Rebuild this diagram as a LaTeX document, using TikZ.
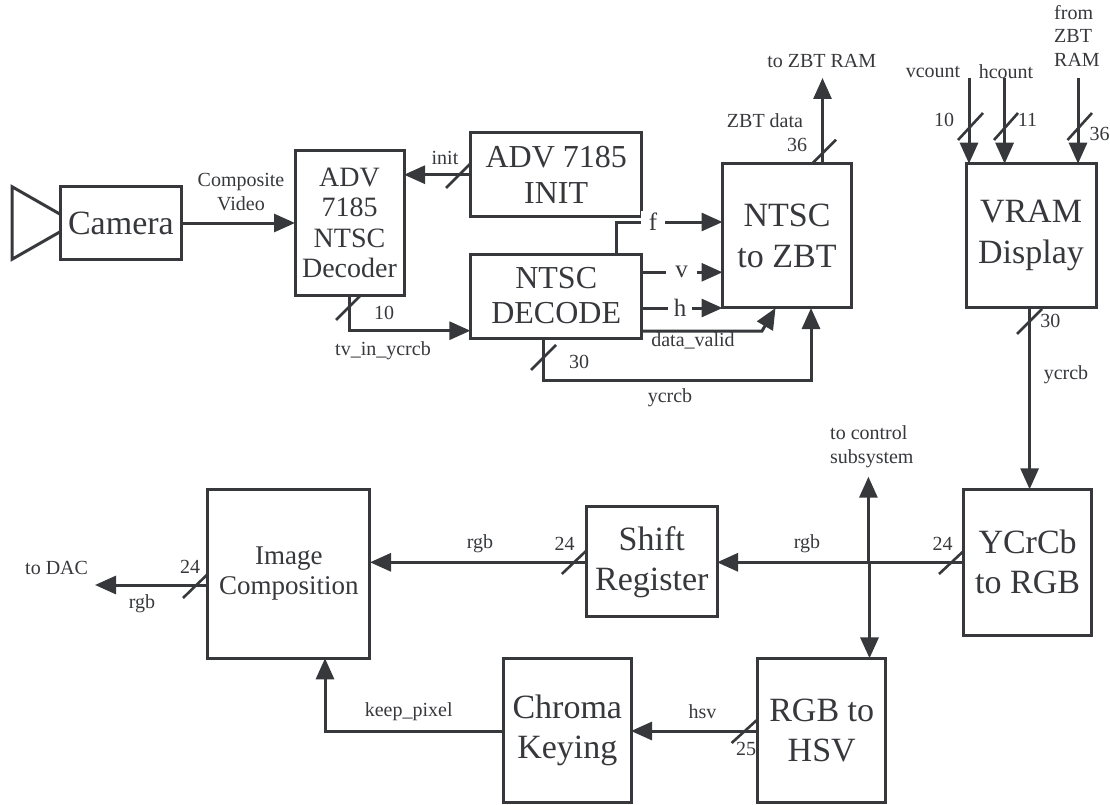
\documentclass[tikz,border=0pt]{standalone}
\usepackage{fontspec}
\setmainfont{Liberation Serif}
\usetikzlibrary{arrows.meta}
\definecolor{ink}{HTML}{37383C}
\tikzset{
  blk/.style={draw=ink,line width=3pt,fill=white,text=ink,inner sep=0pt,outer sep=0pt,align=center,font=\fontsize{34}{40}\selectfont},
  lab/.style={text=ink,inner sep=0pt,align=center,font=\fontsize{20}{23.5}\selectfont},
  siglab/.style={text=ink,fill=white,inner sep=0pt,align=center,minimum height=22pt,font=\fontsize{25}{28}\selectfont},
  conn/.style={draw=ink,line width=3pt,line join=miter,-{Triangle[length=21pt,width=18pt]}},
  tick/.style={draw=ink,line width=2.6pt}
}
\begin{document}
\begin{tikzpicture}[x=1pt,y=-1pt]
\useasboundingbox (0,0) rectangle (1110,805);
% triangle behind the camera
\draw[draw=ink,line width=3pt,line join=miter] (75.5,223) -- (12,186.7) -- (12,259.3) -- cycle;
% blocks
\node[blk,minimum width=120.5pt,minimum height=72.5pt] (camera) at (120.9,223) {Camera};
\node[blk,minimum width=109pt,minimum height=144pt,font=\fontsize{28}{30.5}\selectfont] (adv) at (349.5,223) {ADV\\7185\\NTSC\\Decoder};
\node[blk,minimum width=171.5pt,minimum height=84pt,font=\fontsize{32}{36}\selectfont] (init) at (556.2,174.7) {ADV 7185\\INIT};
\node[blk,minimum width=171.5pt,minimum height=84pt,font=\fontsize{32}{35}\selectfont] (decode) at (556.2,296) {NTSC\\DECODE};
\node[blk,minimum width=129pt,minimum height=144.3pt,font=\fontsize{34}{41}\selectfont] (zbt) at (787,235.8) {NTSC\\to ZBT};
\node[blk,minimum width=130pt,minimum height=144.3pt,font=\fontsize{34}{41}\selectfont] (vram) at (1031,235.8) {VRAM\\Display};
\node[blk,minimum width=128pt,minimum height=146pt] (ycc) at (1027.6,562.3) {YCrCb\\to RGB};
\node[blk,minimum width=130.5pt,minimum height=110pt] (shift) at (651.8,561.7) {Shift\\Register};
\node[blk,minimum width=162pt,minimum height=169pt,font=\fontsize{27}{30}\selectfont] (image) at (288.9,573.8) {Image\\Composition};
\node[blk,minimum width=127.5pt,minimum height=143.7pt] (chroma) at (567.3,730.2) {Chroma\\Keying};
\node[blk,minimum width=127.5pt,minimum height=143.7pt] (hsvb) at (821.7,730.2) {RGB to\\HSV};
% ports
\coordinate (decin) at (470.4,330.7);
\coordinate (fout) at (616,254);
\coordinate (fin) at (722.5,222);
\coordinate (vout) at (642,272.3);
\coordinate (vin) at (722.5,272.3);
\coordinate (hout) at (642,308);
\coordinate (hin) at (722.5,308);
\coordinate (dvout) at (642,331);
\coordinate (dvk) at (762,331);
\coordinate (dvin) at (775.5,308);
\coordinate (yout) at (543,338);
\coordinate (yk) at (543,380);
\coordinate (yin) at (811,308);
\coordinate (zout) at (822.5,163.7);
\coordinate (zfree) at (822.5,78);
\coordinate (vcfree) at (969,78);
\coordinate (vcin) at (969,163.7);
\coordinate (hcfree) at (1004.6,78);
\coordinate (hcin) at (1004.6,163.7);
\coordinate (rfree) at (1078,78);
\coordinate (rin) at (1078,163.7);
\coordinate (vrout) at (1029.6,308);
\coordinate (yccin) at (1029.6,489.3);
\coordinate (junc) at (868.4,562.3);
\coordinate (junc2) at (869.5,562.3);
\coordinate (ctrl) at (868.4,476.7);
\coordinate (hsvin) at (869.5,658.3);
\coordinate (shiftin) at (717,562.3);
\coordinate (shiftout) at (586.5,562.3);
\coordinate (imgin) at (370,562.3);
\coordinate (imgout) at (207.8,585);
\coordinate (dac) at (95,585);
\coordinate (imgkeep) at (325,658.3);
\coordinate (chromaout) at (503.6,731);
\coordinate (hsvout) at (758,731);
\coordinate (chromain) at (631,731);
% connectors
\draw[conn] (camera.east) -- (adv.west);
\draw[conn] (init.west) -- (adv.east |- init.west);
\draw[conn] (adv.south) |- (decin);
\draw[conn] (fout) |- (fin);
\draw[conn] (vout) -- (vin);
\draw[conn] (hout) -- (hin);
\draw[conn] (dvout) -- (dvk) -- (dvin);
\draw[conn] (yout) -- (yk) -| (yin);
\draw[conn] (zout) -- (zfree);
\draw[conn] (vcfree) -- (vcin);
\draw[conn] (hcfree) -- (hcin);
\draw[conn] (rfree) -- (rin);
\draw[conn] (vrout) -- (yccin);
\draw[conn] (ycc.west |- junc) -- (shiftin);
\draw[conn] (junc) -- (ctrl);
\draw[conn,line width=3.6pt] (junc2) -- (hsvin);
\draw[conn] (shiftout) -- (imgin);
\draw[conn] (imgout) -- (dac);
\draw[conn] (chromaout) -| (imgkeep);
\draw[conn] (hsvout) -- (chromain);
% bus ticks
\draw[tick] (446,188) -- ++(25,-25);
\draw[tick] (336,320) -- ++(25,-25);
\draw[tick] (531,370) -- ++(25,-25);
\draw[tick] (812,163.7) -- ++(24,-24);
\draw[tick] (958,140) -- ++(25,-27);
\draw[tick] (994,140) -- ++(24,-27);
\draw[tick] (1067.5,140) -- ++(24.5,-27);
\draw[tick] (1017,334) -- ++(25,-25);
\draw[tick] (939,574) -- ++(24.6,-23);
\draw[tick] (561.8,574) -- ++(24.2,-23);
\draw[tick] (183,598) -- ++(24.8,-24);
\draw[tick] (731.6,743) -- ++(26.4,-24);
% signal letters
\node[siglab,minimum width=24pt] (lf) at (653,222) {f};
\node[siglab,minimum width=31pt] (lv) at (681.5,272.3) {v};
\node[siglab,minimum width=24pt] (lh) at (680,308) {h};
% labels
\node[lab] (l1) at (241,192) {Composite\\Video};
\node[lab] (l2) at (445,158) {init};
\node[lab] (l3) at (384,313) {10};
\node[lab] (l4) at (383,351) {tv\_in\_ycrcb};
\node[lab] (l5) at (693,340.7) {data\_valid};
\node[lab] (l6) at (579,362) {30};
\node[lab] (l7) at (670,398) {ycrcb};
\node[lab] (l8) at (797,145) {36};
\node[lab] (l9) at (765,121) {ZBT data};
\node[lab] (l10) at (821.7,61) {to ZBT RAM};
\node[lab] (l11) at (933,72) {vcount};
\node[lab] (l12) at (1006,72) {hcount};
\node[lab,align=left,anchor=north west] (l13) at (1054,5) {from\\ZBT\\RAM};
\node[lab] (l14) at (944,120) {10};
\node[lab] (l15) at (1027.5,120) {11};
\node[lab] (l16) at (1099.6,134) {36};
\node[lab] (l17) at (1050.4,321) {30};
\node[lab] (l18) at (1066,375) {ycrcb};
\node[lab] (l19) at (942.5,544) {24};
\node[lab] (l20) at (807,544) {rgb};
\node[lab,align=left,anchor=west] (l21) at (830,446.5) {to control\\subsystem};
\node[lab] (l22) at (564.5,544) {24};
\node[lab] (l23) at (480,544) {rgb};
\node[lab] (l24) at (190,567) {24};
\node[lab] (l25) at (142,604) {rgb};
\node[lab] (l26) at (56.6,568) {to DAC};
\node[lab] (l27) at (408.7,712) {keep\_pixel};
\node[lab] (l28) at (746,749) {25};
\node[lab] (l29) at (702.5,712) {hsv};
\end{tikzpicture}
\end{document}
